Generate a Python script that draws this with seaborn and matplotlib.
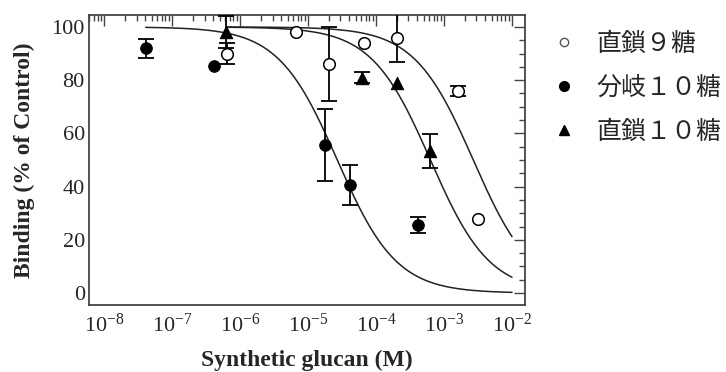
import numpy as np
import pandas as pd
import matplotlib
matplotlib.use("Agg")
import matplotlib.pyplot as plt
import seaborn as sns
from matplotlib.lines import Line2D
from matplotlib.ticker import LogLocator, MultipleLocator, LogFormatterMathtext

# ---- data ----
lin9_x = [6.4e-7, 6.6e-6, 2.0e-5, 6.6e-5, 2.0e-4, 1.6e-3, 3.2e-3]
lin9_y = [90, 98, 86, 94, 96, 76, 28]
lin9_err = [4, 0, 14, 0, 9, 2, 0]

br10_x = [4.1e-8, 4.1e-7, 1.8e-5, 4.1e-5, 4.1e-4]
br10_y = [92, 85.5, 55.6, 40.6, 25.6]
br10_err = [3.5, 0, 13.5, 7.5, 3]

lin10_x = [6.3e-7, 6.3e-5, 2.0e-4, 6.2e-4]
lin10_y = [98, 81, 79, 53.4]
lin10_err = [6, 2, 0, 6.3]

labels = ["直鎖９糖", "分岐１０糖", "直鎖１０糖"]
x_ticks = [1e-8, 1e-7, 1e-6, 1e-5, 1e-4, 1e-3, 1e-2]

# fitted one-site competition curves (log IC50, start of curve)
fit_logic50 = [-2.57, -4.57, -3.20]
fit_start = [6.3e-7, 4.1e-8, 6.3e-7]
fit_end = 1e-2

sns.set_style("white")
plt.rcParams["font.family"] = ["Liberation Serif", "DejaVu Serif"]
plt.rcParams["mathtext.fontset"] = "stix"

fig = plt.figure(figsize=(7.26, 3.72), dpi=100)
ax = fig.add_axes([0.1226, 0.180, 0.6005, 0.7797])

# curves
for lic, x0 in zip(fit_logic50, fit_start):
    xs = np.logspace(np.log10(x0), np.log10(fit_end), 200)
    ys = 100 / (1 + 10 ** (np.log10(xs) - lic))
    sns.lineplot(x=xs, y=ys, ax=ax, color="#222222", lw=1.1, estimator=None, sort=False)

# error bars (only where a bar is visible)
for xs, ys, es in [(lin9_x, lin9_y, lin9_err), (br10_x, br10_y, br10_err), (lin10_x, lin10_y, lin10_err)]:
    keep = [i for i, e in enumerate(es) if e > 0]
    ax.errorbar([xs[i] for i in keep], [ys[i] for i in keep], yerr=[es[i] for i in keep],
                fmt="none", ecolor="black", elinewidth=1.3,
                capsize=5.5, capthick=1.3, zorder=3)

# points
df9 = pd.DataFrame({"x": lin9_x, "y": lin9_y})
dfb = pd.DataFrame({"x": br10_x, "y": br10_y})
dfl = pd.DataFrame({"x": lin10_x, "y": lin10_y})
sns.scatterplot(data=df9, x="x", y="y", ax=ax, marker="o", s=70, facecolor="white",
                edgecolor="black", linewidth=1.1, zorder=4)
sns.scatterplot(data=dfb, x="x", y="y", ax=ax, marker="o", s=70, color="black",
                edgecolor="black", zorder=4)
sns.scatterplot(data=dfl, x="x", y="y", ax=ax, marker="^", s=80, color="black",
                edgecolor="black", zorder=4)

ax.set_xscale("log")
ax.set_xlim(6e-9, 1.55e-2)
ax.set_ylim(-4.5, 104.5)

ax.set_xticks(x_ticks)
ax.xaxis.set_minor_locator(LogLocator(base=10, subs=np.arange(2, 10), numticks=12))
ax.xaxis.set_major_formatter(LogFormatterMathtext())
ax.yaxis.set_major_locator(MultipleLocator(20))
ax.yaxis.set_minor_locator(MultipleLocator(5))

ax.tick_params(which="both", direction="in", top=True, right=True, color="#444444")
ax.tick_params(which="major", length=8, width=1.0)
ax.tick_params(which="minor", length=4.5, width=1.0)
ax.tick_params(axis="x", labelsize=16, pad=6)
ax.tick_params(axis="y", labelsize=16, pad=3)
for sp in ax.spines.values():
    sp.set_color("#444444")
    sp.set_linewidth(1.3)

ax.set_xlabel("Synthetic glucan (M)", fontsize=17, fontweight="bold")
ax.set_ylabel("Binding (% of Control)", fontsize=17, fontweight="bold")
ax.xaxis.set_label_coords(0.5, -0.155)
ax.yaxis.set_label_coords(-0.124, 0.5)

handles = [
    Line2D([], [], ls="none", marker="o", ms=6, mfc="white", mec="#555555", mew=1.0),
    Line2D([], [], ls="none", marker="o", ms=7, mfc="black", mec="black"),
    Line2D([], [], ls="none", marker="^", ms=7, mfc="black", mec="black"),
]
leg = fig.legend(handles, labels, loc="upper left", bbox_to_anchor=(0.728, 0.978),
                 frameon=False, handlelength=1.0, handletextpad=0.82, labelspacing=0.72,
                 prop={"family": ["Noto Sans CJK JP", "DejaVu Sans"], "size": 18})

fig.savefig("out.png", dpi=100)
